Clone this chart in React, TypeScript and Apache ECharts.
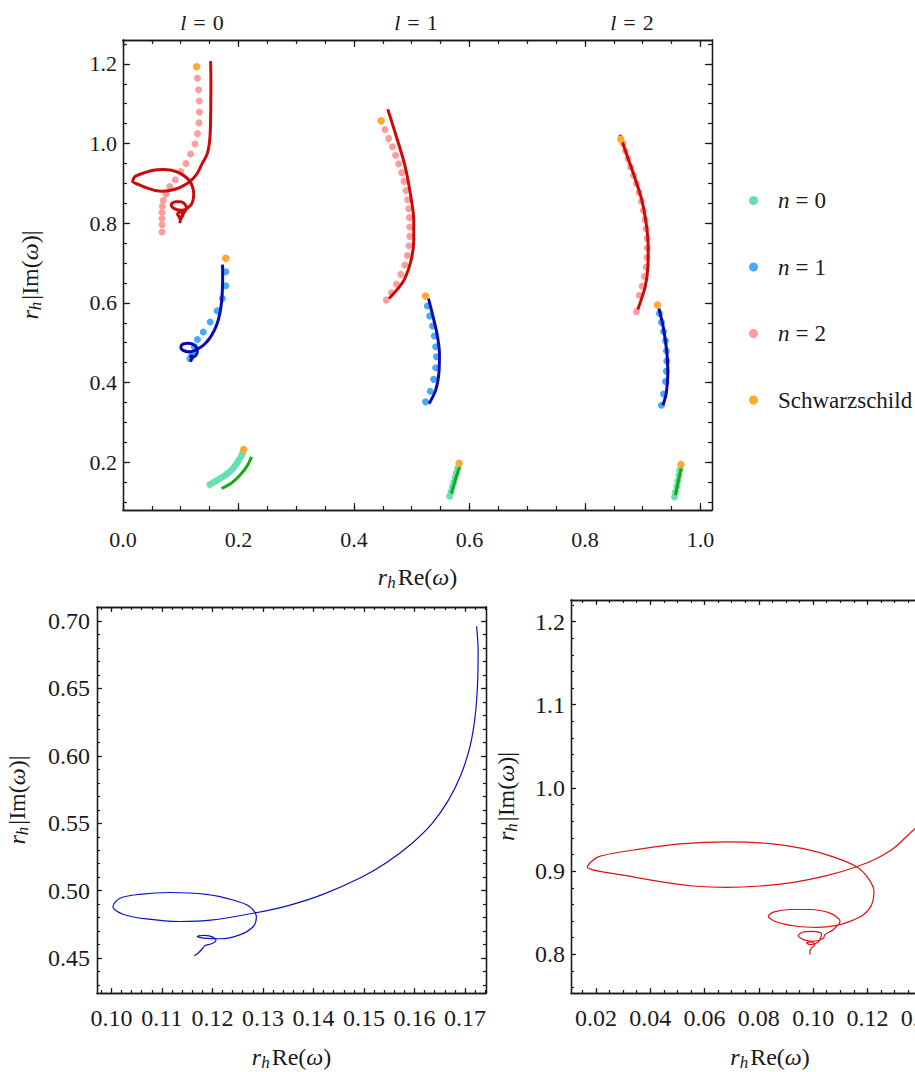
import React, { useEffect, useRef } from "react";
import * as echarts from "echarts";

// ---------- data ----------
// top panel, dots (n = 0, 1, 2) for l = 0, 1, 2
const dotsN0L0 = [[0.1505,0.144],[0.1563,0.149],[0.1621,0.154],[0.1678,0.159],[0.1736,0.164],[0.1794,0.170],[0.1851,0.1766],[0.1898,0.1832],[0.1938,0.1908],[0.1978,0.1983],[0.2013,0.2067],[0.2047,0.2151],[0.2071,0.2234]];
const dotsN0L1 = [[0.5657,0.1146],[0.568,0.1254],[0.5704,0.138],[0.5727,0.1497],[0.575,0.1616],[0.5773,0.1731],[0.5796,0.1849]];
const dotsN0L2 = [[0.955,0.1128],[0.9567,0.1254],[0.959,0.1397],[0.9608,0.153],[0.9625,0.1666],[0.9642,0.18]];
const dotsN1L0 = [[0.178,0.678],[0.178,0.643],[0.172,0.611],[0.163,0.580],[0.151,0.552],[0.139,0.527],[0.129,0.508],[0.1235,0.490],[0.119,0.473],[0.116,0.460]];
const dotsN1L1 = [[0.527,0.592],[0.531,0.567],[0.536,0.542],[0.539,0.517],[0.5415,0.490],[0.5427,0.4646],[0.5415,0.437],[0.538,0.408],[0.532,0.378],[0.524,0.3515]];
const dotsN1L2 = [[0.929,0.5736],[0.9325,0.551],[0.936,0.528],[0.9394,0.5048],[0.941,0.4797],[0.9417,0.4538],[0.941,0.4286],[0.9394,0.4028],[0.936,0.371],[0.9325,0.343]];
const dotsN2L0 = [[0.129,1.164],[0.131,1.135],[0.132,1.107],[0.1325,1.079],[0.1315,1.052],[0.129,1.025],[0.1246,0.999],[0.117,0.974],[0.109,0.950],[0.100,0.930],[0.0905,0.909],[0.081,0.892],[0.0744,0.873],[0.0697,0.857],[0.068,0.842],[0.0675,0.827],[0.0675,0.812],[0.0675,0.796],[0.0675,0.778]];
const dotsN2L1 = [[0.4538,1.035],[0.460,1.013],[0.4665,0.992],[0.472,0.9706],[0.4775,0.949],[0.4827,0.927],[0.4867,0.905],[0.490,0.882],[0.493,0.859],[0.4948,0.8365],[0.496,0.814],[0.4965,0.7905],[0.4965,0.767],[0.495,0.7435],[0.4925,0.719],[0.488,0.695],[0.481,0.6716],[0.4735,0.647],[0.465,0.6255],[0.456,0.607]];
const dotsN2L2 = [[0.866,1.000],[0.870,0.982],[0.8745,0.962],[0.879,0.941],[0.884,0.920],[0.889,0.899],[0.8935,0.877],[0.8975,0.855],[0.901,0.832],[0.904,0.809],[0.906,0.786],[0.9075,0.762],[0.908,0.738],[0.9075,0.714],[0.906,0.690],[0.903,0.666],[0.899,0.642],[0.894,0.619],[0.889,0.5776]];
const schwarzschild = [[0.209,0.232],[0.178,0.712],[0.1275,1.193],[0.582,0.197],[0.524,0.617],[0.447,1.057],[0.966,0.194],[0.9256,0.5945],[0.862,1.011]];

// lines
const lineN0L0 = [[0.1707,0.1339],[0.188,0.148],[0.2024,0.1673],[0.214,0.1882],[0.2227,0.2133]];
const lineN0L1 = [[0.5687,0.121],[0.5744,0.1505],[0.579,0.1716],[0.583,0.19]];
const lineN0L2 = [[0.9567,0.117],[0.9614,0.1505],[0.967,0.188]];
const lineN1L0 = [[0.1723,0.696],[0.1726,0.678],[0.1725,0.654],[0.1720,0.629],[0.1710,0.607],[0.1692,0.586],[0.1667,0.567],[0.1635,0.550],[0.1593,0.5345],[0.1545,0.521],[0.1495,0.510],[0.1420,0.4975],[0.1350,0.489],[0.1283,0.4835],[0.1201,0.4784],[0.1135,0.4772],[0.1069,0.4791],[0.1023,0.4826],[0.1003,0.4882],[0.1016,0.4943],[0.1056,0.4973],[0.1116,0.4987],[0.1188,0.4973],[0.1241,0.4931],[0.1274,0.4882],[0.1287,0.4809],[0.1281,0.4735],[0.1254,0.4673],[0.1215,0.4644],[0.1182,0.4649],[0.1170,0.4661],[0.1185,0.4669],[0.1201,0.4656],[0.1207,0.4632],[0.1198,0.4607],[0.1185,0.4592],[0.1180,0.4570],[0.1174,0.4546],[0.1168,0.4526],[0.1164,0.4521]];
const lineN1L1 = [[0.529,0.611],[0.537,0.565],[0.5437,0.523],[0.548,0.473],[0.547,0.423],[0.5415,0.381],[0.530,0.347]];
const lineN1L2 = [[0.928,0.586],[0.936,0.536],[0.942,0.473],[0.9435,0.423],[0.9407,0.3727],[0.935,0.343]];
const lineN2L0 = [[0.1517,1.207],[0.1522,1.16],[0.1521,1.11],[0.1517,1.06],[0.1508,1.02],[0.1490,0.995],[0.1462,0.976],[0.1420,0.962],[0.1375,0.951],[0.1295,0.9271],[0.1234,0.9152],[0.1160,0.9052],[0.1050,0.8945],[0.0927,0.8865],[0.0804,0.8821],[0.0681,0.8805],[0.0558,0.8821],[0.0436,0.8873],[0.0313,0.8945],[0.0168,0.9052],[0.0208,0.9172],[0.0374,0.9271],[0.0522,0.9331],[0.0681,0.9351],[0.0841,0.9331],[0.0964,0.9271],[0.1074,0.9172],[0.1160,0.9052],[0.1203,0.8913],[0.1224,0.8754],[0.1215,0.8594],[0.1185,0.8475],[0.1136,0.8396],[0.1087,0.8348],[0.1013,0.8325],[0.0939,0.8337],[0.0866,0.8388],[0.0835,0.8456],[0.0853,0.8507],[0.0915,0.8539],[0.0988,0.8539],[0.1062,0.8495],[0.1099,0.8396],[0.1074,0.8296],[0.1043,0.8236],[0.1037,0.8189],[0.1001,0.8157],[0.0964,0.8177],[0.0945,0.8224],[0.0964,0.8268],[0.1001,0.8276],[0.1031,0.8245],[0.1019,0.8149],[0.0988,0.8117],[0.0976,0.8137],[0.0994,0.8149],[0.1007,0.8117],[0.0994,0.8078],[0.0988,0.8038],[0.0988,0.7998]];
const lineN2L1 = [[0.4585,1.086],[0.4735,1.017],[0.488,0.946],[0.4975,0.875],[0.5035,0.808],[0.5035,0.758],[0.499,0.7075],[0.488,0.661],[0.4765,0.6364],[0.4607,0.611]];
const lineN2L2 = [[0.8605,1.022],[0.8715,0.9756],[0.8858,0.917],[0.8985,0.858],[0.906,0.7997],[0.9095,0.741],[0.909,0.691],[0.9043,0.6405],[0.8915,0.5836]];

// tick labels
const topXMajor = [0, 0.2, 0.4, 0.6, 0.8, 1.0];
const topYMajor = [0.2, 0.4, 0.6, 0.8, 1.0, 1.2];
const blXMajor = [0.10, 0.11, 0.12, 0.13, 0.14, 0.15, 0.16, 0.17];
const blYMajor = [0.45, 0.50, 0.55, 0.60, 0.65, 0.70];
const brXMajor = [0.02, 0.04, 0.06, 0.08, 0.10, 0.12, 0.14];
const brYMajor = [0.8, 0.9, 1.0, 1.1, 1.2];
const legendNames = ["n = 0", "n = 1", "n = 2", "Schwarzschild"];
const panelTitles = ["l = 0", "l = 1", "l = 2"];

// ---------- styling ----------
const FONT = '"Liberation Serif", "Times New Roman", serif';
const AX = "#1a1a1a";
const C = {
  n0: "#66e0b2", n1: "#4aa8f7", n2: "#ff9c9c", sch: "#ffaa33",
  g: "#12ad12", b: "#0a0ab4", r: "#cc0a0a",
  bBottom: "#0b12c4", rBottom: "#dd1111",
};

function steps(from: number, to: number, step: number) {
  const out: number[] = [];
  const n = Math.round((to - from) / step);
  for (let i = 0; i <= n; i++) out.push(+(from + i * step).toFixed(6));
  return out;
}

const nameRich = (size: number) => ({
  it: { fontFamily: FONT, fontStyle: "italic", fontSize: size, lineHeight: 28, verticalAlign: "middle", color: AX },
  rm: { fontFamily: FONT, fontSize: size, lineHeight: 28, verticalAlign: "middle", color: AX },
  sub: { fontFamily: FONT, fontStyle: "italic", fontSize: Math.round(size * 0.7), lineHeight: 14, verticalAlign: "bottom", color: AX },
  sp: { width: 2, lineHeight: 28 },
});

const X_NAME = "{it|r}{sub|h}{sp|}{rm|Re(}{it|ω}{rm|)}";
const Y_NAME = "{it|r}{sub|h}{sp|}{rm||Im(}{it|ω}{rm|)|}";

function axisGroup(o: any) {
  const { gi, dim, min, max, majors, minors, dec, fs, majLen, minLen, margin, nameGap } = o;
  const line = { show: true, onZero: false, lineStyle: { color: AX, width: 1.3 } };
  const s1 = dim === "x" ? "bottom" : "left";
  const s2 = dim === "x" ? "top" : "right";
  const base = { type: "value", gridIndex: gi, min, max, splitLine: { show: false }, axisLine: line };
  const tick = (vals: number[], len: number) => ({ show: true, inside: true, length: len, customValues: vals, lineStyle: { color: AX, width: 1.2 } });
  return [
    {
      ...base, position: s1, axisTick: tick(majors, majLen),
      axisLabel: {
        show: true, customValues: majors, margin,
        formatter: (v: number) => `{v|${v.toFixed(dec)}}`,
        fontFamily: FONT, fontSize: fs, color: AX,
        rich: { v: { fontFamily: FONT, fontSize: fs, color: AX } },
      },
      name: dim === "x" ? X_NAME : Y_NAME, nameLocation: "middle", nameGap, nameRotate: dim === "y" ? 90 : 0,
      nameTextStyle: { rich: nameRich(24) },
    },
    { ...base, position: s1, axisTick: tick(minors, minLen), axisLabel: { show: false } },
    { ...base, position: s2, axisTick: tick(majors, majLen), axisLabel: { show: false } },
    { ...base, position: s2, axisTick: tick(minors, minLen), axisLabel: { show: false } },
  ];
}

export default function App() {
  const ref = useRef<HTMLDivElement>(null);
  useEffect(() => {
    if (!ref.current) return;
    const chart = echarts.init(ref.current, null, { renderer: "svg" });
    const xAxes = [
      ...axisGroup({ gi: 0, dim: "x", min: 0, max: 1.02, majors: topXMajor, minors: steps(0, 1.0, 0.05), dec: 1, fs: 22, majLen: 7, minLen: 4, margin: 18, nameGap: 53 }),
      ...axisGroup({ gi: 1, dim: "x", min: 0.09715, max: 0.17416, majors: blXMajor, minors: steps(0.098, 0.174, 0.002), dec: 2, fs: 24, majLen: 5, minLen: 3, margin: 13, nameGap: 50 }),
      ...axisGroup({ gi: 2, dim: "x", min: 0.0108, max: 0.1574, majors: brXMajor, minors: steps(0.015, 0.155, 0.005), dec: 2, fs: 24, majLen: 5, minLen: 3, margin: 13, nameGap: 50 }),
    ];
    const yAxes = [
      ...axisGroup({ gi: 0, dim: "y", min: 0.08, max: 1.26, majors: topYMajor, minors: steps(0.10, 1.25, 0.05), dec: 1, fs: 22, majLen: 7, minLen: 4, margin: 6, nameGap: 79 }),
      ...axisGroup({ gi: 1, dim: "y", min: 0.4242, max: 0.7103, majors: blYMajor, minors: steps(0.43, 0.71, 0.01), dec: 2, fs: 24, majLen: 5, minLen: 3, margin: 7, nameGap: 66 }),
      ...axisGroup({ gi: 2, dim: "y", min: 0.7535, max: 1.2259, majors: brYMajor, minors: steps(0.76, 1.22, 0.02), dec: 1, fs: 24, majLen: 5, minLen: 3, margin: 6, nameGap: 51 }),
    ];

    const dot = (name: string, data: number[][], color: string, size: number, z: number) => ({
      name, type: "scatter", xAxisIndex: 0, yAxisIndex: 0, data, symbol: "circle", symbolSize: size,
      itemStyle: { color, opacity: 1 }, z, silent: true,
    });
    const ln = (name: string, data: number[][], color: string, width: number, gi: number) => ({
      name, type: "line", xAxisIndex: gi * 4, yAxisIndex: gi * 4, data, showSymbol: false, smooth: 0.3,
      lineStyle: { color, width }, itemStyle: { color }, z: 3, silent: true, clip: true,
    });

    const titleGraphics = panelTitles.map((t, i) => ({
      type: "text",
      x: [202, 416, 632][i],
      y: 22,
      style: {
        text: `{it|${t.slice(0, 1)}}{sp|}{rm|=}{sp|}{rm|${t.slice(-1)}}`,
        align: "center", verticalAlign: "middle", textAlign: "center", textVerticalAlign: "middle",
        rich: {
          it: { fontFamily: FONT, fontStyle: "italic", fontSize: 22, fill: AX, color: AX },
          rm: { fontFamily: FONT, fontSize: 22, fill: AX, color: AX },
          sp: { width: 7 },
        },
      },
    }));

    chart.setOption({
      animation: false,
      backgroundColor: "#ffffff",
      grid: [
        { left: 123, top: 40, width: 589, height: 470 },
        { left: 97, top: 607, width: 389, height: 388 },
        { left: 571, top: 600, width: 398, height: 396 },
      ],
      xAxis: xAxes,
      yAxis: yAxes,
      legend: {
        orient: "vertical", left: 744, top: 184, itemWidth: 9, itemHeight: 9, itemGap: 43.5,
        icon: "circle", selectedMode: false, data: legendNames,
        formatter: (name: string) => name === "Schwarzschild"
          ? "{pad|}{rm|Schwarzschild}"
          : `{pad|}{it|${name.slice(0, 1)}}{sp|}{rm|=}{sp|}{rm|${name.slice(-1)}}`,
        textStyle: {
          rich: {
            pad: { width: 15, lineHeight: 20 },
            sp: { width: 6, lineHeight: 20 },
            it: { fontFamily: FONT, fontStyle: "italic", fontSize: 23, lineHeight: 20, color: AX },
            rm: { fontFamily: FONT, fontSize: 23, lineHeight: 20, color: AX },
          },
        },
      },
      graphic: titleGraphics,
      series: [
        dot("n = 0", [...dotsN0L0, ...dotsN0L1, ...dotsN0L2], C.n0, 7, 2),
        dot("n = 1", [...dotsN1L0, ...dotsN1L1, ...dotsN1L2], C.n1, 7, 2),
        dot("n = 2", [...dotsN2L0, ...dotsN2L1, ...dotsN2L2], C.n2, 7, 2),
        ln("l0n0", lineN0L0, C.g, 3, 0),
        ln("l1n0", lineN0L1, C.g, 3, 0),
        ln("l2n0", lineN0L2, C.g, 3, 0),
        ln("l0n1", lineN1L0, C.b, 3, 0),
        ln("l1n1", lineN1L1, C.b, 3, 0),
        ln("l2n1", lineN1L2, C.b, 3, 0),
        ln("l0n2", lineN2L0, C.r, 3, 0),
        ln("l1n2", lineN2L1, C.r, 3, 0),
        ln("l2n2", lineN2L2, C.r, 3, 0),
        dot("Schwarzschild", schwarzschild, C.sch, 7.5, 5),
        ln("zoom n1", lineN1L0, C.bBottom, 1.2, 1),
        ln("zoom n2", lineN2L0, C.rBottom, 1.2, 2),
      ],
    });
    return () => chart.dispose();
  }, []);

  return (
    <div style={{ position: "fixed", left: 0, top: 0, width: 915, height: 1072, overflow: "hidden", background: "#fff" }}>
      <div ref={ref} style={{ width: 1000, height: 1072 }} />
    </div>
  );
}
